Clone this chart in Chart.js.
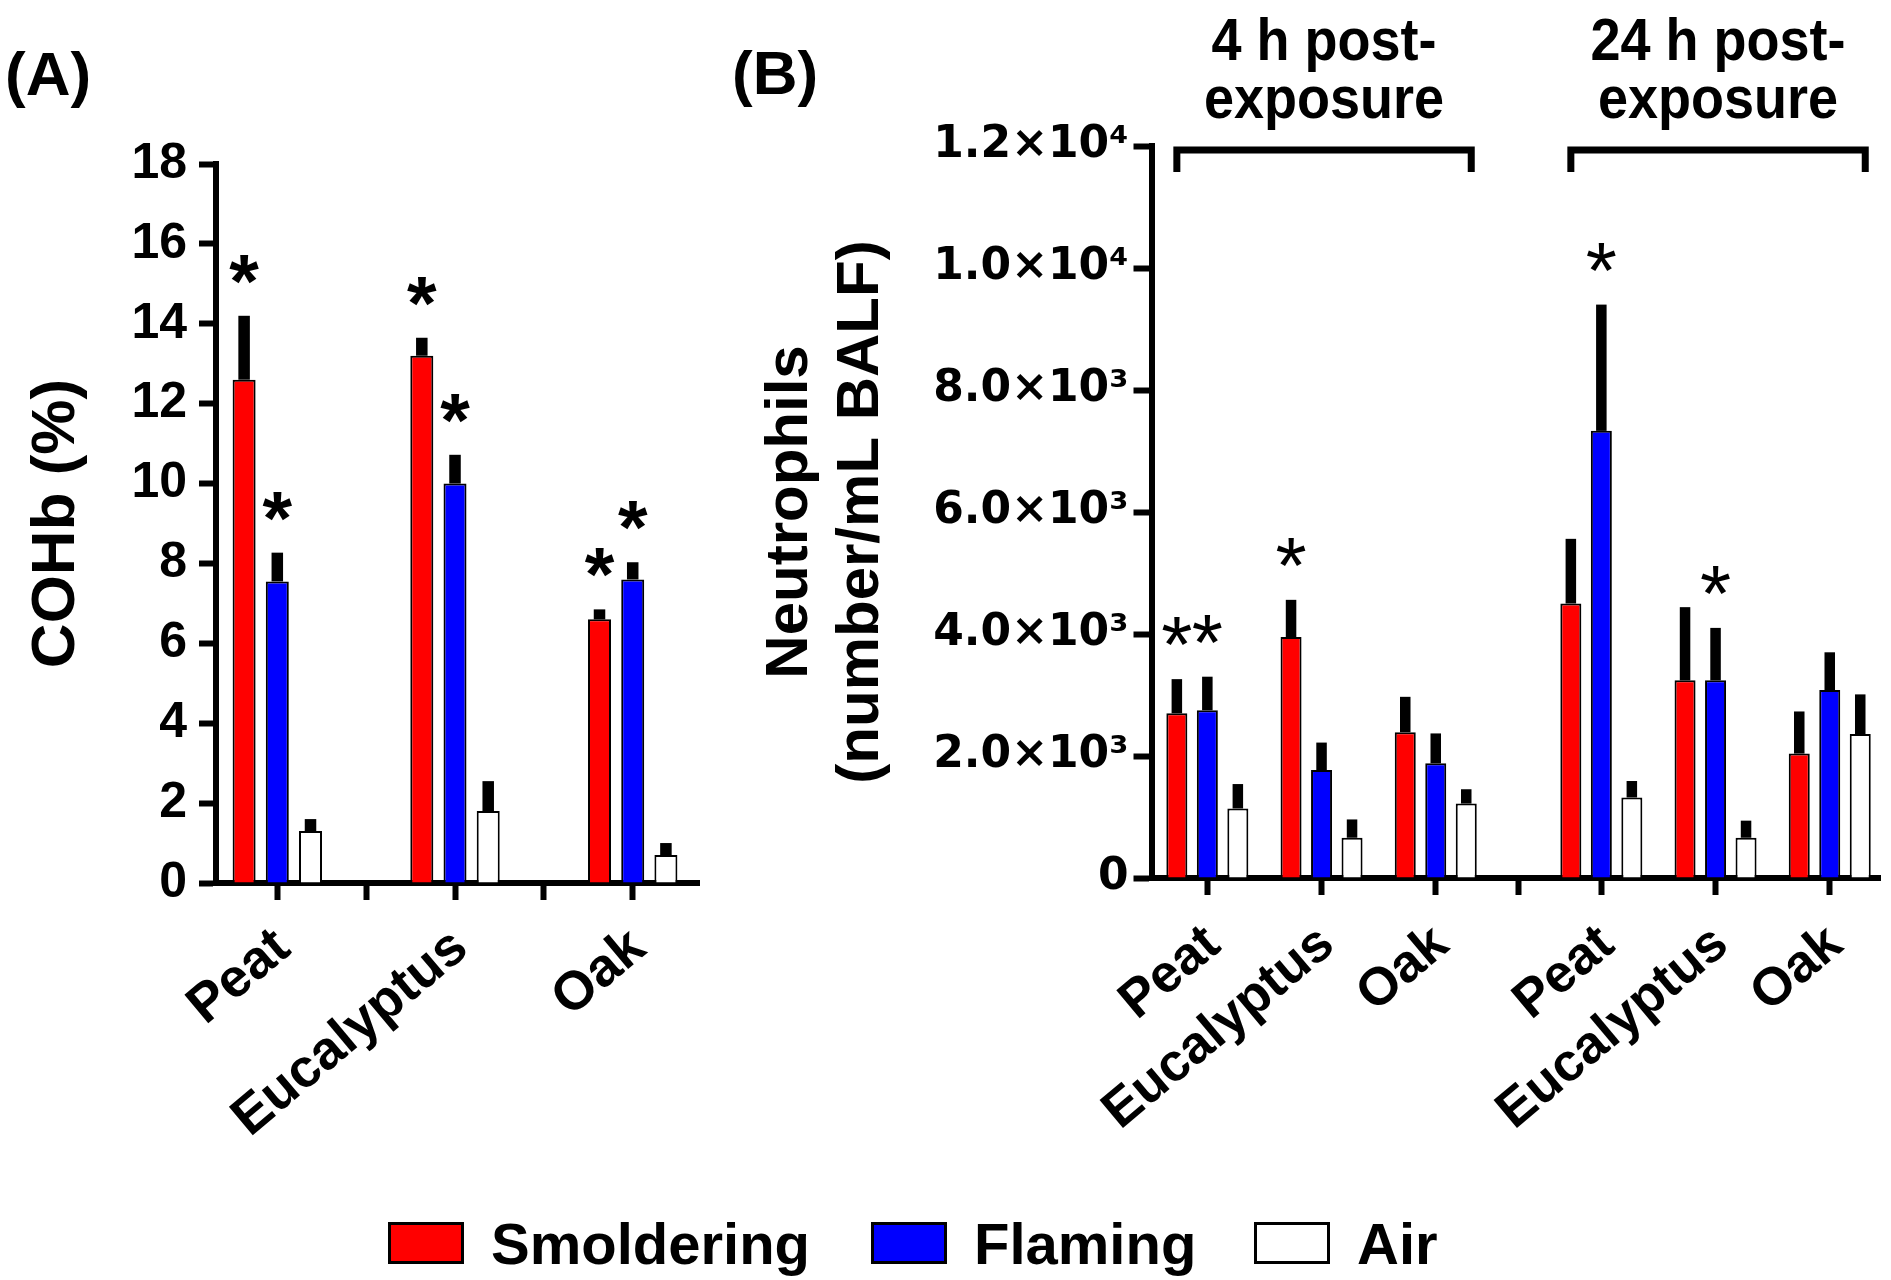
<!DOCTYPE html>
<html>
<head>
<meta charset="utf-8">
<script src="https://cdn.jsdelivr.net/npm/chart.js@4.4.0/dist/chart.umd.min.js"></script>
<style>
  html, body { margin: 0; padding: 0; background: #fff; }
  #wrap { position: relative; width: 1891px; height: 1280px; background: #fff; font-family: "Liberation Sans", Arial, sans-serif; }
  canvas { position: absolute; top: 0; }
  #chartA { left: 0; }
  #chartB { left: 720px; }
  .panel { position: absolute; font-weight: bold; font-size: 62px; line-height: 62px; }
  #legend { position: absolute; top: 1222px; left: 388px; height: 42px; }
  .item { position: absolute; top: 0; height: 42px; display: flex; align-items: center; white-space: nowrap; }
  .box { width: 70px; height: 36px; border: 3px solid #000; margin-right: 27px; }
  .lbl { font-size: 58px; font-weight: bold; }
</style>
</head>
<body>
<div id="wrap">
  <canvas id="chartA" width="720" height="1180"></canvas>
  <canvas id="chartB" width="1171" height="1180"></canvas>
  <div class="panel" style="left:5px; top:43px;">(A)</div>
  <div class="panel" style="left:732px; top:42px;">(B)</div>
  <div id="legend"></div>
</div>
<script>
const FONT = '"Liberation Sans", Arial, sans-serif';

// Series shared by both panels
const seriesNames = ["Smoldering", "Flaming", "Air"];
const seriesColors = ["#ff0000", "#0000ff", "#ffffff"];

// Panel A: COHb (%)
const groupsA = ["Peat", "Eucalyptus", "Oak"];
const smolderA = [12.6, 13.2, 6.6];
const smolderErrA = [1.6, 0.45, 0.25];
const flamingA = [7.55, 10.0, 7.6];
const flamingErrA = [0.72, 0.72, 0.43];
const airA = [1.3, 1.8, 0.7];
const airErrA = [0.3, 0.75, 0.3];
const starsA = [[true, true, true], [true, true, true], [false, false, false]];
const yTicksA = [0, 2, 4, 6, 8, 10, 12, 14, 16, 18];

// Panel B: neutrophils in BALF
const groupsB = ["Peat", "Eucalyptus", "Oak", "Peat", "Eucalyptus", "Oak"];
const headersB = [["4 h post-", "exposure"], ["24 h post-", "exposure"]];
const smolderB = [2700, 3950, 2390, 4500, 3240, 2040];
const smolderErrB = [560, 610, 580, 1060, 1200, 690];
const flamingB = [2750, 1770, 1880, 7330, 3240, 3080];
const flamingErrB = [550, 450, 490, 2070, 860, 620];
const airB = [1140, 660, 1220, 1320, 660, 2360];
const airErrB = [400, 300, 235, 270, 280, 650];
const starsB = [
  [true, true, false, false, false, false],
  [true, false, false, true, true, false],
  [false, false, false, false, false, false],
];
const yTicksB = [0, 2000, 4000, 6000, 8000, 10000, 12000];

// where groups sit along the x axis (gap between the two time points)
const posA = [0, 1, 2];
const midTicksA = [0.5, 1.5];
const posB = [0, 1, 2, 3.45, 4.45, 5.45];
const midTicksB = [2.725];

const SUP = { 3: "\u00b3", 4: "\u2074" };
function sci(v) {
  if (v === 0) return "0";
  const e = Math.floor(Math.log10(v) + 1e-9);
  return (v / Math.pow(10, e)).toFixed(1) + "\u00d710" + SUP[e];
}

function labelAt(pos, names, v) {
  const i = pos.findIndex((p) => Math.abs(p - v) < 1e-6);
  return i >= 0 ? names[i] : "";
}

function makeDatasets(pos, values, errors, stars, barPct, catPct) {
  return values.map((vals, s) => ({
    label: seriesNames[s],
    data: vals.map((v, i) => ({ x: pos[i], y: v })),
    errors: errors[s],
    stars: stars[s],
    backgroundColor: seriesColors[s],
    borderColor: "#000",
    borderWidth: 2,
    borderSkipped: "start",
    barPercentage: barPct,
    categoryPercentage: catPct,
  }));
}

// error bars (one-sided, thick) and significance stars
const barExtras = {
  id: "barExtras",
  afterDatasetsDraw(chart, args, opts) {
    const ctx = chart.ctx;
    const y = chart.scales.y;
    ctx.save();
    chart.data.datasets.forEach((ds, di) => {
      chart.getDatasetMeta(di).data.forEach((bar, i) => {
        const top = y.getPixelForValue(ds.data[i].y + ds.errors[i]);
        const w = bar.width * 0.5;
        ctx.fillStyle = "#000";
        ctx.fillRect(bar.x - w / 2, top, w, bar.y - top);
        if (ds.stars[i]) {
          ctx.font = opts.starFont;
          ctx.textAlign = "center";
          ctx.textBaseline = "alphabetic";
          ctx.fillText("*", bar.x, top + opts.starOffset);
        }
      });
    });
    ctx.restore();
  },
};

// brackets + time point headers over panel B
const timeHeaders = {
  id: "timeHeaders",
  afterDraw(chart) {
    const ctx = chart.ctx;
    const area = chart.chartArea;
    const first = chart.getDatasetMeta(0).data;
    const last = chart.getDatasetMeta(2).data;
    ctx.save();
    headersB.forEach((lines, k) => {
      const x1 = first[k * 3].x;
      const x2 = last[k * 3 + 2].x + 5;
      const yTop = area.top + 4;
      ctx.strokeStyle = "#000";
      ctx.lineWidth = 7;
      ctx.lineCap = "butt";
      ctx.lineJoin = "miter";
      ctx.beginPath();
      ctx.moveTo(x1, area.top + 26);
      ctx.lineTo(x1, yTop);
      ctx.lineTo(x2, yTop);
      ctx.lineTo(x2, area.top + 26);
      ctx.stroke();
      ctx.fillStyle = "#000";
      ctx.font = "bold 60px " + FONT;
      ctx.textAlign = "center";
      ctx.textBaseline = "alphabetic";
      lines.forEach((t, j) => {
        ctx.save();
        ctx.translate((x1 + x2) / 2, area.top - 86 + j * 58);
        ctx.scale(0.9, 1);
        ctx.fillText(t, 0, 0);
        ctx.restore();
      });
    });
    ctx.restore();
  },
};

function axisStyle() {
  return {
    border: { display: true, color: "#000", width: 6 },
    grid: { display: true, drawOnChartArea: false, drawTicks: true, offset: false, tickLength: 17, tickWidth: 6, tickColor: "#000" },
  };
}

// Panel A
new Chart(document.getElementById("chartA"), {
  type: "bar",
  data: {
    datasets: makeDatasets(posA, [smolderA, flamingA, airA], [smolderErrA, flamingErrA, airErrA], starsA, 0.693, 1.121),
  },
  options: {
    responsive: false,
    animation: false,
    devicePixelRatio: 1,
    layout: { padding: { top: 164, left: 0, right: 21, bottom: 7 } },
    plugins: {
      legend: { display: false },
      tooltip: { enabled: false },
      barExtras: { starFont: "bold 76px " + FONT, starOffset: -9 },
    },
    scales: {
      x: {
        type: "linear",
        bounds: "data",
        offset: false,
        min: -0.345,
        max: 2.373,
        z: 1,
        ...axisStyle(),
        afterBuildTicks: (s) => { s.ticks = posA.concat(midTicksA).sort((a, b) => a - b).map((v) => ({ value: v })); },
        afterFit: (s) => { s.height = 290; },
        ticks: {
          autoSkip: false,
          minRotation: 40,
          maxRotation: 40,
          padding: 16,
          labelOffset: 6,
          color: "#000",
          font: { family: FONT, size: 54, weight: "bold" },
          callback: (v) => labelAt(posA, groupsA, v),
        },
      },
      y: {
        min: 0,
        max: 18,
        ...axisStyle(),
        afterBuildTicks: (s) => { s.ticks = yTicksA.map((v) => ({ value: v })); },
        afterFit: (s) => { s.width = 216; },
        ticks: { color: "#000", padding: 12, font: { family: FONT, size: 50, weight: "bold" } },
        title: {
          display: true,
          text: "COHb (%)",
          color: "#000",
          font: { family: FONT, size: 62, weight: "bold" },
          padding: { top: 20, bottom: 0 },
        },
      },
    },
  },
  plugins: [barExtras],
});

// Panel B
new Chart(document.getElementById("chartB"), {
  type: "bar",
  data: {
    datasets: makeDatasets(posB, [smolderB, flamingB, airB], [smolderErrB, flamingErrB, airErrB], starsB, 0.689, 1.105),
  },
  options: {
    responsive: false,
    animation: false,
    devicePixelRatio: 1,
    layout: { padding: { top: 146, left: 0, right: 11, bottom: 12 } },
    plugins: {
      legend: { display: false },
      tooltip: { enabled: false },
      barExtras: { starFont: "80px " + FONT, starOffset: -7 },
    },
    scales: {
      x: {
        type: "linear",
        bounds: "data",
        offset: false,
        min: -0.489,
        max: 5.89,
        z: 1,
        ...axisStyle(),
        afterBuildTicks: (s) => { s.ticks = posB.concat(midTicksB).sort((a, b) => a - b).map((v) => ({ value: v })); },
        afterFit: (s) => { s.height = 290; },
        ticks: {
          autoSkip: false,
          minRotation: 40,
          maxRotation: 40,
          padding: 18,
          labelOffset: 6,
          color: "#000",
          font: { family: FONT, size: 53, weight: "bold" },
          callback: (v) => labelAt(posB, groupsB, v),
        },
      },
      y: {
        min: 0,
        max: 12000,
        ...axisStyle(),
        grid: { display: true, drawOnChartArea: false, drawTicks: true, offset: false, tickLength: 18, tickWidth: 6, tickColor: "#000" },
        afterBuildTicks: (s) => { s.ticks = yTicksB.map((v) => ({ value: v })); },
        afterFit: (s) => { s.width = 431.5; },
        ticks: {
          color: "#000",
          padding: 5,
          font: { family: '"DejaVu Sans", sans-serif', size: 44, weight: "bold" },
          callback: (v) => sci(v),
        },
        title: {
          display: true,
          text: ["Neutrophils", "(number/mL BALF)"],
          color: "#000",
          font: { family: FONT, size: 60, weight: "bold", lineHeight: 1.18 },
          padding: { top: 35, bottom: 0 },
        },
      },
    },
  },
  plugins: [barExtras, timeHeaders],
});

// Legend
const legendLeft = [0, 483, 866];
const legendEl = document.getElementById("legend");
seriesNames.forEach((name, i) => {
  const item = document.createElement("div");
  item.className = "item";
  item.style.left = legendLeft[i] + "px";
  item.innerHTML = `<div class="box" style="background:${seriesColors[i]}"></div><span class="lbl">${name}</span>`;
  legendEl.appendChild(item);
});
</script>
</body>
</html>
